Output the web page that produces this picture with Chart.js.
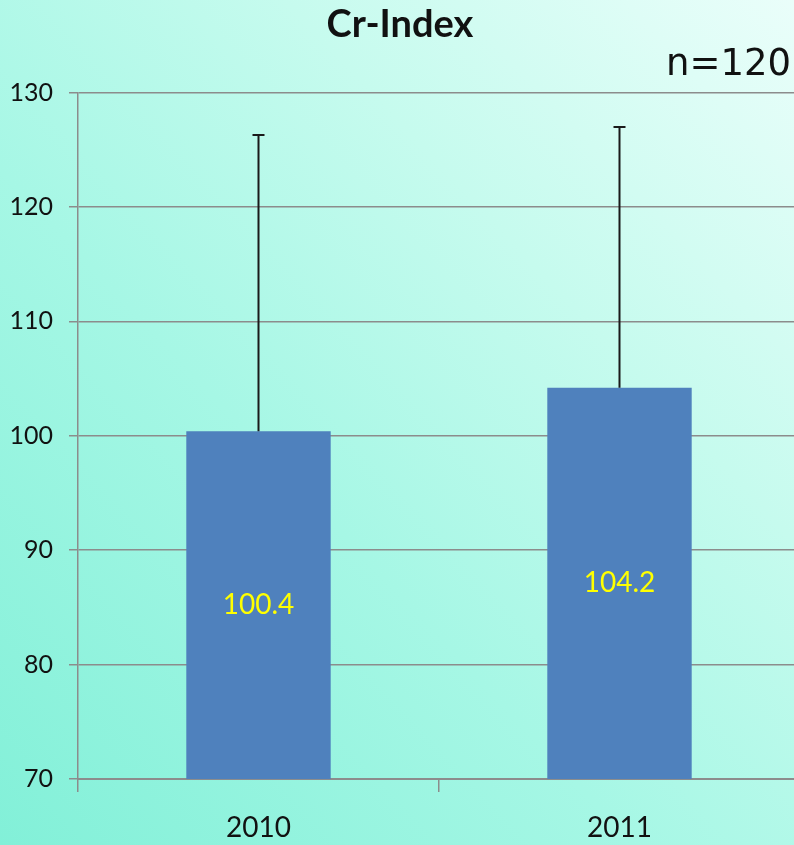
<!DOCTYPE html>
<html>
<head>
<meta charset="utf-8">
<title>Cr-Index</title>
<script src="https://cdn.jsdelivr.net/npm/chart.js@4"></script>
<style>
    html, body {
        margin: 0;
        padding: 0;
        width: 794px;
        height: 845px;
        overflow: hidden;
    }
    body {
        background: linear-gradient(to top right, #82f0d8 0%, #a6f7e5 40%, #c6fbee 68%, #eafefa 100%);
    }
    #crChart {
        display: block;
    }
</style>
</head>
<body>
<canvas id="crChart" width="812" height="845"></canvas>
<script>
// Chart data
const years = ['2010', '2011'];
const meanValues = [100.4, 104.2];
const sdValues = [25.9, 22.8];
const yTicks = [70, 80, 90, 100, 110, 120, 130];
const sampleLabel = 'n=120';

const axisGray = '#8c8c8c';

// Upper error whisker (mean + SD) on each bar
const errorBarPlugin = {
    id: 'errorBars',
    afterDatasetsDraw(chart) {
        const ctx = chart.ctx;
        const yScale = chart.scales.y;
        const meta = chart.getDatasetMeta(0);
        ctx.save();
        ctx.strokeStyle = '#1a1a1a';
        ctx.lineWidth = 2;
        meta.data.forEach((bar, i) => {
            const { x, y } = bar.getProps(['x', 'y'], true);
            const top = yScale.getPixelForValue(meanValues[i] + sdValues[i]);
            ctx.beginPath();
            ctx.moveTo(x, y);
            ctx.lineTo(x, top);
            ctx.moveTo(x - 6, top);
            ctx.lineTo(x + 6, top);
            ctx.stroke();
        });
        ctx.restore();
    }
};

// Value labels in the middle of each bar, plus the sample size note
const labelPlugin = {
    id: 'valueLabels',
    afterDraw(chart) {
        const ctx = chart.ctx;
        const yScale = chart.scales.y;
        const meta = chart.getDatasetMeta(0);
        ctx.save();
        ctx.fillStyle = '#ffff00';
        ctx.font = '28px Lato, "Liberation Sans", sans-serif';
        ctx.textAlign = 'center';
        ctx.textBaseline = 'middle';
        meta.data.forEach((bar, i) => {
            const { x, y } = bar.getProps(['x', 'y'], true);
            const base = yScale.getPixelForValue(yScale.min);
            ctx.fillText(meanValues[i].toFixed(1), x, (y + base) / 2);
        });

        ctx.fillStyle = '#111111';
        ctx.font = '37px "DejaVu Sans", sans-serif';
        ctx.textAlign = 'right';
        ctx.textBaseline = 'alphabetic';
        ctx.fillText(sampleLabel, 791, 75);
        ctx.restore();
    }
};

const ctx = document.getElementById('crChart').getContext('2d');
const crChart = new Chart(ctx, {
    type: 'bar',
    data: {
        labels: years,
        datasets: [{
            label: 'Cr-Index',
            data: meanValues,
            backgroundColor: '#4f81bd',
            borderWidth: 0,
            barPercentage: 0.4,
            categoryPercentage: 1.0
        }]
    },
    options: {
        responsive: false,
        animation: false,
        devicePixelRatio: 1,
        layout: {
            padding: { left: 0, right: 12, top: 0, bottom: 0 }
        },
        scales: {
            x: {
                grid: {
                    offset: true,
                    drawOnChartArea: false,
                    drawTicks: true,
                    tickLength: 13,
                    color: axisGray,
                    lineWidth: 1.5
                },
                border: { display: true, color: axisGray, width: 2 },
                ticks: {
                    color: '#111111',
                    padding: 19,
                    font: { family: 'Lato, "Liberation Sans", sans-serif', size: 28 }
                },
                afterFit(scale) {
                    scale.height = 66;
                }
            },
            y: {
                min: 70,
                max: 130,
                afterBuildTicks(scale) {
                    scale.ticks = yTicks.map(v => ({ value: v }));
                },
                grid: {
                    color: axisGray,
                    lineWidth: 1.5,
                    tickLength: 9
                },
                border: { display: true, color: axisGray, width: 1.5 },
                ticks: {
                    color: '#111111',
                    padding: 16,
                    font: { family: 'Lato, "Liberation Sans", sans-serif', size: 25 }
                },
                afterFit(scale) {
                    scale.width = 78;
                }
            }
        },
        plugins: {
            legend: { display: false },
            tooltip: { enabled: false },
            title: {
                display: true,
                text: 'Cr-Index',
                color: '#111111',
                font: { family: 'Lato, "Liberation Sans", sans-serif', size: 38, weight: 'bold' },
                padding: { top: 2, bottom: 45 }
            }
        }
    },
    plugins: [errorBarPlugin, labelPlugin]
});
</script>
</body>
</html>
